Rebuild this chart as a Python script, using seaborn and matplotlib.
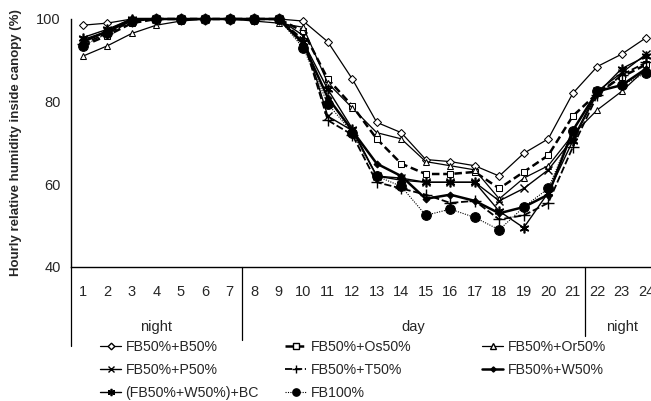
import matplotlib
matplotlib.use("Agg")
import matplotlib.pyplot as plt
from matplotlib.lines import Line2D
import numpy as np
import pandas as pd
import seaborn as sns

hours = list(range(1, 25))

b50 = [98.5, 99, 100, 100, 100, 100, 100, 100, 100, 99.5, 94.5, 85.5, 75, 72.5, 66, 65.5, 64.5, 62, 67.5, 71, 82, 88.5, 91.5, 95.5]
os50 = [93.5, 96, 99, 100, 100, 100, 100, 100, 100, 97, 85.5, 79, 71, 65, 62.5, 62.5, 63, 59, 63, 67, 76.5, 82, 86, 89]
or50 = [91, 93.5, 96.5, 98.5, 99.5, 100, 100, 99.5, 99, 98, 84.5, 78.5, 72.5, 71, 65.5, 64.5, 63.5, 56.5, 61.5, 64.5, 72, 78, 82.5, 88]
p50 = [95, 97, 99.5, 100, 100, 100, 100, 100, 100, 96, 76.5, 73, 62, 61.5, 60.5, 60.5, 60.5, 56, 59, 63.5, 71, 82.5, 87, 91.5]
t50 = [94, 96.5, 99.5, 100, 100, 100, 100, 100, 100, 95, 75.5, 72, 60.5, 59, 57.5, 55.5, 56, 51.5, 52.5, 55.5, 69, 81.5, 86.5, 89.5]
w50 = [94.5, 97, 100, 100, 100, 100, 100, 100, 100, 94, 81, 73, 65, 62, 56.5, 57.5, 56, 53, 54.5, 57.5, 73, 82.5, 84, 88]
w50bc = [95.5, 97.5, 100, 100, 100, 100, 100, 100, 100, 94.5, 83, 73.5, 62, 61, 60.5, 60.5, 60.5, 53.5, 49.5, 58, 70.5, 82, 88, 91]
fb100 = [93.5, 96.5, 99.5, 100, 100, 100, 100, 100, 100, 93, 79.5, 72.5, 62, 59.5, 52.5, 54, 52, 49, 54.5, 59, 73, 82.5, 84, 87]

period_labels = ["night", "day", "night"]
period_bounds = [(0.5, 7.5), (7.5, 21.5), (21.5, 24.5)]

series = [
    ("FB50%+B50%", b50, dict(marker="D", ms=4.5, mfc="white", lw=0.9, ls="-")),
    ("FB50%+Os50%", os50, dict(marker="s", ms=5, mfc="white", lw=1.8, ls=(0, (3, 1.5)))),
    ("FB50%+Or50%", or50, dict(marker="^", ms=5, mfc="white", lw=0.9, ls="-")),
    ("FB50%+P50%", p50, dict(marker="x", ms=6, mew=1.0, lw=1.0, ls="-")),
    ("FB50%+T50%", t50, dict(marker="+", ms=8, mew=1.0, lw=1.3, ls=(0, (4, 1.5)))),
    ("FB50%+W50%", w50, dict(marker="D", ms=3.5, lw=1.8, ls="-")),
    ("(FB50%+W50%)+BC", w50bc, dict(marker=(6, 2, 0), ms=7, mew=1.2, lw=1.0, ls="-")),
    ("FB100%", fb100, dict(marker="o", ms=7, lw=0.8, ls=(0, (1, 1.2)))),
]

sns.set_theme(style="white")
plt.rcParams["font.family"] = ["Liberation Sans", "DejaVu Sans"]

fig = plt.figure(figsize=(6.51, 4.01), dpi=100)
W, H = 651, 401
ax = fig.add_axes([70.5 / W, 1 - 267 / H, 588 / W, 248 / H])

handles = {}
for name, vals, st in series:
    df = pd.DataFrame({"hour": hours, "rh": vals})
    kw = dict(st)
    ls = kw.pop("ls")
    sns.lineplot(data=df, x="hour", y="rh", ax=ax, color="black", mec="black",
                 linestyle=ls, clip_on=False, zorder=3, **kw)
    hk = dict(kw)
    hk["ms"] = hk["ms"] * 0.75
    handles[name] = Line2D([], [], color="black", mec="black", linestyle=ls, **hk)

ax.set_xlim(0.5, 24.5)
ax.set_ylim(40, 100)
ax.set_xlabel("")
ax.set_ylabel("Hourly relative humidity inside canopy (%)", fontsize=9.5,
              fontweight="bold", labelpad=10)

for s in ["top", "right"]:
    ax.spines[s].set_visible(False)
for s in ["left", "bottom"]:
    ax.spines[s].set_color("black")
    ax.spines[s].set_linewidth(1.0)

ax.set_yticks([40, 60, 80, 100])
ax.tick_params(axis="y", direction="out", length=4, width=1, color="black",
               labelsize=10.5, pad=3)

# category separators below the axis and hour labels between them
ax.set_xticks(np.arange(0.5, 25, 1))
ax.set_xticklabels([])
ax.tick_params(axis="x", which="major", direction="out", length=33, width=0.9,
               color="black")
ax.set_xticks(hours, minor=True)
ax.set_xticklabels([str(h) for h in hours], minor=True)
ax.tick_params(axis="x", which="minor", length=0, labelsize=10.5, pad=13)

trans = ax.get_xaxis_transform()
for xb, y0 in [(0.5, -0.32), (7.5, -0.295), (21.5, -0.28)]:
    ax.add_line(Line2D([xb, xb], [0, y0], transform=trans, color="black",
                       lw=0.9, clip_on=False))
for lab, (a, b) in zip(period_labels, period_bounds):
    ax.text((a + b) / 2, -0.24, lab, transform=trans, ha="center",
            va="center", fontsize=10.5)

# legend laid out as three columns
columns = [
    (100, ["FB50%+B50%", "FB50%+P50%", "(FB50%+W50%)+BC"]),
    (285, ["FB50%+Os50%", "FB50%+T50%", "FB100%"]),
    (482, ["FB50%+Or50%", "FB50%+W50%"]),
]
for x0, names in columns:
    fig.legend([handles[n] for n in names], names, loc="upper left",
               bbox_to_anchor=(x0 / W, 1 - 340 / H), frameon=False,
               fontsize=10.2, handlelength=1.5, handletextpad=0.3,
               labelspacing=0.62, borderaxespad=0, borderpad=0)

fig.savefig("out.png", dpi=100, facecolor="white")
